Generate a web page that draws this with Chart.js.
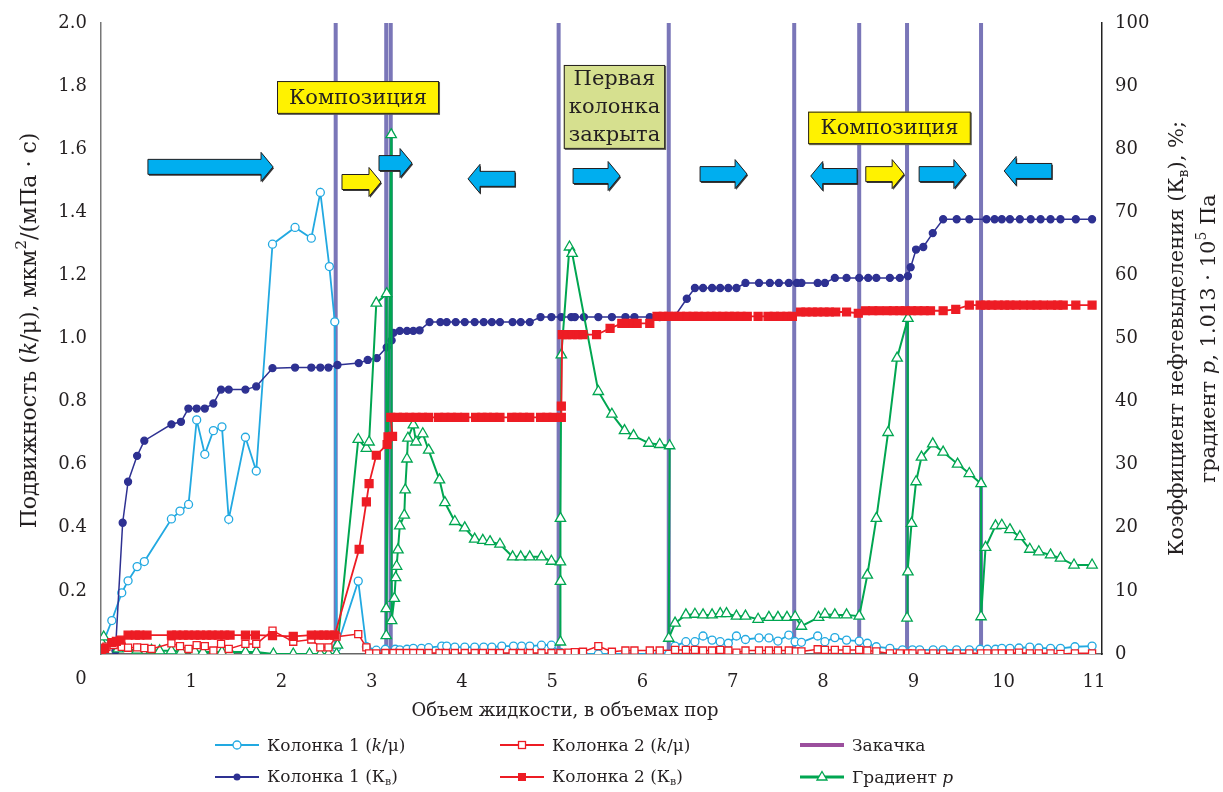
<!DOCTYPE html>
<html>
<head>
<meta charset="utf-8">
<script src="https://cdn.jsdelivr.net/npm/chart.js@4.4.1/dist/chart.umd.min.js"></script>
<style>
  html, body { margin: 0; padding: 0; background: #fff; }
  #wrap { position: relative; width: 1223px; height: 792px; }
  #legend .item {
    position: absolute; height: 24px; display: flex; align-items: center;
    font-family: 'DejaVu Serif', serif; font-size: 17px; color: #231f20; white-space: nowrap;
  }
  #legend svg { margin-right: 8px; }
  #legend sub { font-size: 11px; vertical-align: -3px; }
</style>
</head>
<body>
<div id="wrap">
  <canvas id="chart" width="1223" height="792"></canvas>
  <div id="legend"></div>
</div>
<script>
// x: объем жидкости (в объемах пор); y: k/μ (left axis) or % (right axis)
const col1Mob = [[0.03,0.04],[0.12,0.106],[0.23,0.194],[0.30,0.232],[0.40,0.277],[0.48,0.293],[0.78,0.428],[0.875,0.453],[0.97,0.474],[1.06,0.742],[1.15,0.633],[1.245,0.708],[1.34,0.720],[1.415,0.427],[1.60,0.687],[1.72,0.580],[1.90,1.299],[2.15,1.352],[2.33,1.318],[2.43,1.463],[2.53,1.228],[2.59,1.053],[2.61,0.02],[2.85,0.231],[2.94,0.023],[3.05,0.012],[3.15,0.015],[3.26,0.015],[3.31,0.013],[3.39,0.015],[3.46,0.018],[3.55,0.018],[3.63,0.020],[3.775,0.025],[3.83,0.025],[3.92,0.022],[4.03,0.022],[4.14,0.022],[4.24,0.022],[4.33,0.022],[4.44,0.025],[4.57,0.025],[4.66,0.025],[4.75,0.025],[4.88,0.028],[4.99,0.028],[5.09,0.005],[5.18,0],[5.25,0],[5.34,0],[5.51,0],[5.66,0],[5.81,0],[5.91,0],[6.08,0],[6.19,0],[6.29,0],[6.36,0.025],[6.48,0.039],[6.58,0.039],[6.67,0.057],[6.77,0.044],[6.86,0.039],[6.95,0.034],[7.04,0.057],[7.14,0.046],[7.29,0.051],[7.40,0.051],[7.50,0.041],[7.62,0.060],[7.69,0.039],[7.76,0.037],[7.94,0.057],[8.02,0.039],[8.13,0.052],[8.26,0.044],[8.40,0.041],[8.49,0.034],[8.59,0.023],[8.74,0.018],[8.88,0.013],[8.99,0.013],[9.07,0.013],[9.22,0.013],[9.33,0.013],[9.48,0.013],[9.62,0.013],[9.74,0.015],[9.82,0.015],[9.91,0.015],[9.98,0.018],[10.07,0.018],[10.17,0.019],[10.29,0.022],[10.39,0.019],[10.52,0.018],[10.63,0.018],[10.79,0.023],[10.98,0.025]];

const col2Mob = [[0.01,0],[0.06,0.023],[0.14,0.028],[0.23,0.023],[0.30,0.020],[0.40,0.021],[0.48,0.019],[0.56,0.016],[0.78,0.034],[0.875,0.025],[0.97,0.016],[1.06,0.028],[1.15,0.025],[1.245,0.011],[1.33,0.032],[1.415,0.016],[1.60,0.032],[1.72,0.032],[1.90,0.074],[2.13,0.039],[2.33,0.046],[2.43,0.021],[2.52,0.021],[2.61,0.055],[2.85,0.063],[2.94,0.021],[2.97,0.002],[3.05,0.002],[3.15,0.003],[3.24,0.003],[3.31,0.003],[3.39,0.003],[3.46,0.003],[3.535,0.003],[3.63,0.003],[3.75,0.003],[3.82,0.003],[3.92,0.003],[4.03,0.003],[4.14,0.003],[4.23,0.003],[4.33,0.003],[4.42,0.003],[4.56,0.003],[4.65,0.003],[4.75,0.003],[4.88,0.003],[4.99,0.003],[5.09,0.003],[5.18,0.004],[5.25,0.006],[5.34,0.007],[5.51,0.025],[5.66,0.007],[5.81,0.011],[5.91,0.011],[6.08,0.011],[6.19,0.011],[6.36,0.013],[6.48,0.013],[6.58,0.013],[6.67,0.011],[6.77,0.011],[6.86,0.013],[6.95,0.011],[7.04,0.004],[7.14,0.011],[7.29,0.011],[7.40,0.011],[7.50,0.011],[7.62,0.011],[7.70,0.008],[7.76,0.008],[7.94,0.015],[8.02,0.013],[8.13,0.013],[8.26,0.013],[8.40,0.013],[8.49,0.011],[8.59,0.008],[8.74,0.002],[8.85,0.002],[8.94,0.002],[8.99,0.002],[9.09,0.002],[9.22,0.002],[9.33,0.002],[9.48,0.002],[9.62,0.002],[9.75,0.002],[9.82,0.002],[9.91,0.002],[9.98,0.002],[10.07,0.002],[10.17,0.004],[10.29,0.002],[10.39,0.002],[10.52,0.002],[10.63,0],[10.79,0.002],[10.98,0.002]];

const col1Kv = [[0.16,0.5],[0.24,20.8],[0.30,27.3],[0.40,31.4],[0.48,33.8],[0.78,36.4],[0.886,36.8],[0.968,38.9],[1.06,38.9],[1.15,38.9],[1.245,39.7],[1.33,41.9],[1.415,41.9],[1.60,41.9],[1.72,42.4],[1.90,45.3],[2.15,45.4],[2.33,45.4],[2.43,45.4],[2.52,45.4],[2.62,45.8],[2.855,46.1],[2.955,46.6],[3.055,46.9],[3.165,48.6],[3.22,49.7],[3.24,50.9],[3.31,51.2],[3.39,51.2],[3.46,51.2],[3.53,51.3],[3.64,52.6],[3.76,52.6],[3.83,52.6],[3.93,52.6],[4.03,52.6],[4.14,52.6],[4.24,52.6],[4.33,52.6],[4.42,52.6],[4.56,52.6],[4.65,52.6],[4.75,52.6],[4.87,53.4],[4.99,53.4],[5.10,53.4],[5.21,53.4],[5.25,53.4],[5.35,53.4],[5.51,53.4],[5.66,53.4],[5.81,53.4],[5.91,53.4],[6.08,53.4],[6.19,53.4],[6.36,53.6],[6.49,56.3],[6.58,58.0],[6.67,58.0],[6.77,58.0],[6.86,58.0],[6.95,58.0],[7.04,58.0],[7.14,58.8],[7.29,58.8],[7.41,58.8],[7.51,58.8],[7.62,58.8],[7.71,58.8],[7.76,58.8],[7.94,58.8],[8.02,58.8],[8.13,59.6],[8.26,59.6],[8.40,59.6],[8.50,59.6],[8.59,59.6],[8.74,59.6],[8.85,59.6],[8.94,59.9],[8.97,61.3],[9.03,64.1],[9.11,64.5],[9.215,66.7],[9.33,68.9],[9.48,68.9],[9.62,68.9],[9.81,68.9],[9.90,68.9],[9.98,68.9],[10.07,68.9],[10.18,68.9],[10.30,68.9],[10.41,68.9],[10.52,68.9],[10.63,68.9],[10.80,68.9],[10.98,68.9]];

const col2Kv = [[0.0,0.2],[0.04,0.9],[0.12,1.8],[0.17,2.0],[0.22,2.2],[0.30,3.0],[0.38,3.0],[0.43,3.0],[0.51,3.0],[0.78,3.0],[0.84,3.0],[0.91,3.0],[0.97,3.0],[1.04,3.0],[1.10,3.0],[1.17,3.0],[1.23,3.0],[1.30,3.0],[1.37,3.0],[1.43,3.0],[1.60,3.0],[1.71,3.0],[1.90,2.9],[2.13,2.8],[2.33,3.0],[2.41,3.0],[2.47,3.0],[2.53,3.0],[2.59,3.0],[2.86,16.6],[2.94,24.1],[2.97,27.0],[3.05,31.5],[3.17,33.2],[3.18,34.4],[3.23,34.5],[3.21,37.5],[3.285,37.5],[3.35,37.5],[3.42,37.5],[3.49,37.5],[3.56,37.5],[3.63,37.5],[3.74,37.5],[3.81,37.5],[3.88,37.5],[3.95,37.5],[4.03,37.5],[4.15,37.5],[4.22,37.5],[4.28,37.5],[4.35,37.5],[4.42,37.5],[4.55,37.5],[4.61,37.5],[4.68,37.5],[4.75,37.5],[4.87,37.5],[4.94,37.5],[5.01,37.5],[5.10,37.5],[5.10,39.3],[5.11,50.6],[5.16,50.6],[5.22,50.6],[5.28,50.6],[5.34,50.6],[5.49,50.6],[5.64,51.6],[5.77,52.4],[5.83,52.4],[5.89,52.4],[5.94,52.4],[6.08,52.4],[6.16,53.5],[6.23,53.5],[6.29,53.5],[6.36,53.5],[6.42,53.5],[6.49,53.5],[6.56,53.5],[6.62,53.5],[6.69,53.5],[6.76,53.5],[6.82,53.5],[6.89,53.5],[6.96,53.5],[7.02,53.5],[7.09,53.5],[7.16,53.5],[7.28,53.5],[7.39,53.5],[7.46,53.5],[7.53,53.5],[7.60,53.5],[7.66,53.5],[7.75,54.2],[7.81,54.2],[7.88,54.2],[7.94,54.2],[8.01,54.2],[8.07,54.2],[8.14,54.2],[8.26,54.2],[8.39,54.0],[8.47,54.4],[8.55,54.4],[8.62,54.4],[8.71,54.4],[8.78,54.4],[8.85,54.4],[8.91,54.4],[8.98,54.4],[9.05,54.4],[9.12,54.4],[9.19,54.4],[9.33,54.4],[9.47,54.6],[9.62,55.3],[9.74,55.3],[9.80,55.3],[9.87,55.3],[9.94,55.3],[10.01,55.3],[10.07,55.3],[10.14,55.3],[10.22,55.3],[10.30,55.3],[10.37,55.3],[10.44,55.3],[10.53,55.3],[10.60,55.3],[10.66,55.3],[10.80,55.3],[10.98,55.3]];

const gradP = [[0.0,2.0],[0.03,2.7],[0.19,0.8],[0.40,0.6],[0.56,0.6],[0.65,0.5],[0.78,0.5],[0.89,0.4],[1.04,0.4],[1.13,0.3],[1.34,0.3],[1.43,0.3],[1.60,0.3],[1.72,0.3],[1.91,0],[2.13,0],[2.31,0],[2.43,0],[2.52,0],[2.61,0],[2.62,1.4],[2.85,34.0],[2.94,32.6],[2.97,33.6],[3.05,55.6],[3.165,57.1],[3.16,7.2],[3.16,2.9],[3.215,82.3],[3.22,5.3],[3.25,8.8],[3.265,12.1],[3.275,13.9],[3.29,16.5],[3.31,20.3],[3.36,22.0],[3.37,26.0],[3.39,30.9],[3.40,34.2],[3.46,36.3],[3.49,33.6],[3.565,34.9],[3.63,32.3],[3.75,27.6],[3.81,24.0],[3.92,21.0],[4.03,20.0],[4.14,18.2],[4.23,18.0],[4.31,17.8],[4.42,17.4],[4.56,15.4],[4.65,15.4],[4.75,15.4],[4.88,15.4],[4.99,14.7],[5.09,14.6],[5.09,11.5],[5.09,1.9],[5.09,21.5],[5.10,47.4],[5.19,64.5],[5.22,63.5],[5.51,41.6],[5.66,38.0],[5.80,35.4],[5.90,34.6],[6.07,33.4],[6.19,33.2],[6.30,33.0],[6.29,2.5],[6.36,4.9],[6.48,6.2],[6.58,6.3],[6.67,6.2],[6.77,6.2],[6.86,6.4],[6.93,6.4],[7.04,6.0],[7.14,6.0],[7.28,5.5],[7.40,5.8],[7.50,5.8],[7.60,5.8],[7.69,5.9],[7.76,4.4],[7.95,5.8],[8.02,6.3],[8.13,6.2],[8.26,6.2],[8.40,6.0],[8.49,12.5],[8.59,21.5],[8.72,35.1],[8.82,46.9],[8.94,53.2],[8.93,5.7],[8.94,13.0],[8.98,20.7],[9.03,27.3],[9.09,31.2],[9.215,33.3],[9.33,32.0],[9.49,30.1],[9.62,28.6],[9.75,27.0],[9.75,5.9],[9.80,16.9],[9.91,20.3],[9.98,20.4],[10.07,19.7],[10.18,18.6],[10.29,16.6],[10.39,16.2],[10.52,15.7],[10.63,15.2],[10.78,14.1],[10.98,14.1]];

// moments of injection (vertical bars)
const injX = [2.60, 3.16, 3.21, 5.07, 6.29, 7.68, 8.40, 8.93, 9.75];

const xTicks = [0,1,2,3,4,5,6,7,8,9,10,11];
const leftTicks = [0.2,0.4,0.6,0.8,1.0,1.2,1.4,1.6,1.8,2.0];
const rightTicks = [0,10,20,30,40,50,60,70,80,90,100];

// annotations (x in pore volumes, y in left-axis units)
const notes = [
  { x1: 1.95, x2: 3.745, y1: 1.816, y2: 1.712, fill: '#fff200', lines: ['Композиция'] },
  { x1: 5.127, x2: 6.25, y1: 1.867, y2: 1.601, fill: '#d6e08f', lines: ['Первая', 'колонка', 'закрыта'] },
  { x1: 7.834, x2: 9.636, y1: 1.719, y2: 1.616, fill: '#fff200', lines: ['Композиция'] }
];
const arrows = [
  { from: 0.52, to: 1.906, y: 1.544, fill: '#00aeef' },
  { from: 2.670, to: 3.102, y: 1.496, fill: '#fff200' },
  { from: 3.08, to: 3.446, y: 1.556, fill: '#00aeef' },
  { from: 4.587, to: 4.066, y: 1.506, fill: '#00aeef' },
  { from: 5.230, to: 5.751, y: 1.515, fill: '#00aeef' },
  { from: 6.637, to: 7.158, y: 1.521, fill: '#00aeef' },
  { from: 8.377, to: 7.863, y: 1.515, fill: '#00aeef' },
  { from: 8.473, to: 8.898, y: 1.521, fill: '#fff200' },
  { from: 9.064, to: 9.582, y: 1.521, fill: '#00aeef' },
  { from: 10.534, to: 10.006, y: 1.531, fill: '#00aeef' }
];

const FONT = "'DejaVu Serif', serif";
const INK = '#231f20';
const C_CYAN = '#22a9e1', C_NAVY = '#2e3192', C_RED = '#ed1c24', C_GREEN = '#00a651';
const C_BAR = '#7a76b8', C_INJ = '#9b4f9d';

const pts = arr => arr.map(([x, y]) => ({ x, y }));

function drawRich(ctx, parts, size) {
  // draws parts centred at (0,0) of current transform
  const fonts = parts.map(p => (p.it ? 'italic ' : '') + Math.round(p.sub || p.sup ? size * 0.68 : size) + 'px ' + FONT);
  let total = 0;
  const widths = parts.map((p, i) => { ctx.font = fonts[i]; const w = ctx.measureText(p.t).width; total += w; return w; });
  let x = -total / 2;
  ctx.textBaseline = 'middle';
  ctx.textAlign = 'left';
  parts.forEach((p, i) => {
    ctx.font = fonts[i];
    const dy = p.sub ? size * 0.3 : p.sup ? -size * 0.35 : 0;
    ctx.fillText(p.t, x, dy);
    x += widths[i];
  });
}

const decor = {
  id: 'decor',
  afterDatasetsDraw(chart) {
    const { ctx, scales: { x, y } } = chart;
    ctx.save();
    // arrows
    arrows.forEach(a => {
      const x0 = x.getPixelForValue(a.from), x1 = x.getPixelForValue(a.to), cy = y.getPixelForValue(a.y);
      const dir = Math.sign(x1 - x0), hl = 12, bh = 7.5, hh = 14.5;
      const xb = x1 - dir * hl;
      const shape = (ox, oy) => {
        ctx.beginPath();
        ctx.moveTo(x0 + ox, cy - bh + oy);
        ctx.lineTo(xb + ox, cy - bh + oy);
        ctx.lineTo(xb + ox, cy - hh + oy);
        ctx.lineTo(x1 + ox, cy + oy);
        ctx.lineTo(xb + ox, cy + hh + oy);
        ctx.lineTo(xb + ox, cy + bh + oy);
        ctx.lineTo(x0 + ox, cy + bh + oy);
        ctx.closePath();
      };
      shape(1, 1.5); ctx.fillStyle = '#3a3a3a'; ctx.fill();
      shape(0, 0); ctx.fillStyle = a.fill; ctx.fill();
      ctx.lineWidth = 1; ctx.strokeStyle = INK; ctx.stroke();
    });
    // text boxes
    notes.forEach(n => {
      const l = x.getPixelForValue(n.x1), r = x.getPixelForValue(n.x2);
      const t = y.getPixelForValue(n.y1), b = y.getPixelForValue(n.y2);
      ctx.fillStyle = '#555'; ctx.fillRect(l + 1, t + 1, r - l, b - t);
      ctx.fillStyle = n.fill; ctx.fillRect(l, t, r - l, b - t);
      ctx.lineWidth = 1; ctx.strokeStyle = INK; ctx.strokeRect(l + 0.5, t + 0.5, r - l - 1, b - t - 1);
      ctx.fillStyle = INK; ctx.font = '21px ' + FONT; ctx.textAlign = 'center'; ctx.textBaseline = 'middle';
      const lh = (b - t) / n.lines.length;
      n.lines.forEach((s, i) => ctx.fillText(s, (l + r) / 2, t + lh * (i + 0.5) + 1));
    });
    ctx.restore();
  },
  afterDraw(chart) {
    const { ctx, chartArea: ca, scales: { x } } = chart;
    ctx.save();
    ctx.fillStyle = INK;
    // origin label
    ctx.font = '18px ' + FONT; ctx.textAlign = 'center'; ctx.textBaseline = 'middle';
    ctx.fillText('0', x.getPixelForValue(0) - 20, ca.bottom + 25);
    // x title
    ctx.font = '18px ' + FONT;
    ctx.fillText('Объем жидкости, в объемах пор', 565, ca.bottom + 57);
    // left title
    const midY = (ca.top + ca.bottom) / 2;
    ctx.save();
    ctx.translate(30, midY - 8); ctx.rotate(-Math.PI / 2);
    drawRich(ctx, [{ t: 'Подвижность (' }, { t: 'k', it: true }, { t: '/μ), мкм' }, { t: '2', sup: true }, { t: '/(мПа · с)' }], 22);
    ctx.restore();
    // right title, two lines
    ctx.save();
    ctx.translate(1178, midY); ctx.rotate(-Math.PI / 2);
    drawRich(ctx, [{ t: 'Коэффициент нефтевыделения (К' }, { t: 'в', sub: true }, { t: '), %;' }], 21);
    ctx.restore();
    ctx.save();
    ctx.translate(1210, midY); ctx.rotate(-Math.PI / 2);
    drawRich(ctx, [{ t: 'градиент ' }, { t: 'p', it: true }, { t: ', 1.013 · 10' }, { t: '5', sup: true }, { t: ' Па' }], 21);
    ctx.restore();
    ctx.restore();
  }
};

const line = (label, data, axis, color, extra) => Object.assign({
  label, data: pts(data), yAxisID: axis, borderColor: color, borderWidth: 1.5,
  pointBorderColor: color, pointBorderWidth: 1.3, tension: 0, fill: false
}, extra);

const datasets = [
  line('Колонка 2 (Кв)', col2Kv, 'y2', C_RED, { pointStyle: 'rect', pointRadius: 5.6, pointBackgroundColor: C_RED, borderWidth: 1.8 }),
  line('Колонка 2 (k/μ)', col2Mob, 'y', C_RED, { pointStyle: 'rect', pointRadius: 5, pointBackgroundColor: '#fff' }),
  line('Градиент p', gradP, 'y2', C_GREEN, { pointStyle: 'triangle', pointRadius: 6, pointBackgroundColor: '#fff', borderWidth: 2 }),
  line('Колонка 1 (Кв)', col1Kv, 'y2', C_NAVY, { pointStyle: 'circle', pointRadius: 3.5, pointBackgroundColor: C_NAVY }),
  line('Колонка 1 (k/μ)', col1Mob, 'y', C_CYAN, { pointStyle: 'circle', pointRadius: 4, pointBackgroundColor: '#fff', borderWidth: 1.8 }),
  {
    label: 'Закачка', yAxisID: 'y', borderColor: C_BAR, borderWidth: 4, pointRadius: 0, spanGaps: false,
    data: injX.flatMap(v => [{ x: v, y: 0 }, { x: v, y: 2 }, { x: v, y: null }])
  }
];

const tickFont = { family: FONT, size: 18 };

new Chart(document.getElementById('chart'), {
  type: 'line',
  data: { datasets },
  options: {
    responsive: false,
    animation: false,
    events: [],
    layout: { padding: { top: 23, left: 0, right: 0, bottom: 0 } },
    plugins: { legend: { display: false }, tooltip: { enabled: false } },
    scales: {
      x: {
        type: 'linear', min: 0, max: 11.09,
        afterBuildTicks: s => { s.ticks = xTicks.map(v => ({ value: v })); },
        ticks: { font: tickFont, color: INK, padding: 11, callback: v => (v === 0 ? '' : String(v)), maxRotation: 0 },
        grid: { display: false, drawTicks: true, tickLength: 7, tickColor: '#666' },
        border: { color: '#666', width: 1.5 },
        afterFit: s => { s.height = 138; }
      },
      y: {
        position: 'left', min: 0, max: 2,
        afterBuildTicks: s => { s.ticks = leftTicks.map(v => ({ value: v })); },
        ticks: { font: tickFont, color: INK, padding: 6, callback: v => v.toFixed(1) },
        grid: { display: false, tickLength: 8, tickColor: '#666' },
        border: { color: '#777', width: 1.5 },
        afterFit: s => { s.width = 101; }
      },
      y2: {
        position: 'right', min: 0, max: 100,
        afterBuildTicks: s => { s.ticks = rightTicks.map(v => ({ value: v })); },
        ticks: { font: tickFont, color: INK, padding: 5 },
        grid: { display: false, tickLength: 8, tickColor: '#222' },
        border: { color: '#222', width: 1.5 },
        afterFit: s => { s.width = 121; }
      }
    }
  },
  plugins: [decor]
});

// legend
const legendItems = [
  { left: 215, top: 733, html: 'Колонка 1 (<i>k</i>/μ)', svg: `<line x1="0" y1="8" x2="44" y2="8" stroke="${C_CYAN}" stroke-width="2"/><circle cx="22" cy="8" r="4" fill="#fff" stroke="${C_CYAN}" stroke-width="1.3"/>` },
  { left: 500, top: 733, html: 'Колонка 2 (<i>k</i>/μ)', svg: `<line x1="0" y1="8" x2="44" y2="8" stroke="${C_RED}" stroke-width="2"/><rect x="18.5" y="4.5" width="7" height="7" fill="#fff" stroke="${C_RED}" stroke-width="1.3"/>` },
  { left: 800, top: 733, html: 'Закачка', svg: `<line x1="0" y1="8" x2="44" y2="8" stroke="${C_INJ}" stroke-width="4"/>` },
  { left: 215, top: 765, html: 'Колонка 1 (К<sub>в</sub>)', svg: `<line x1="0" y1="8" x2="44" y2="8" stroke="${C_NAVY}" stroke-width="2"/><circle cx="22" cy="8" r="3.5" fill="${C_NAVY}"/>` },
  { left: 500, top: 765, html: 'Колонка 2 (К<sub>в</sub>)', svg: `<line x1="0" y1="8" x2="44" y2="8" stroke="${C_RED}" stroke-width="2"/><rect x="18" y="4" width="8" height="8" fill="${C_RED}"/>` },
  { left: 800, top: 765, html: 'Градиент <i>p</i>', svg: `<line x1="0" y1="8" x2="44" y2="8" stroke="${C_GREEN}" stroke-width="3"/><polygon points="22,2.5 27,11 17,11" fill="#fff" stroke="${C_GREEN}" stroke-width="1.3"/>` }
];
document.getElementById('legend').innerHTML = legendItems.map(it =>
  `<div class="item" style="left:${it.left}px;top:${it.top}px"><svg width="44" height="16">${it.svg}</svg><span>${it.html}</span></div>`
).join('');
</script>
</body>
</html>
